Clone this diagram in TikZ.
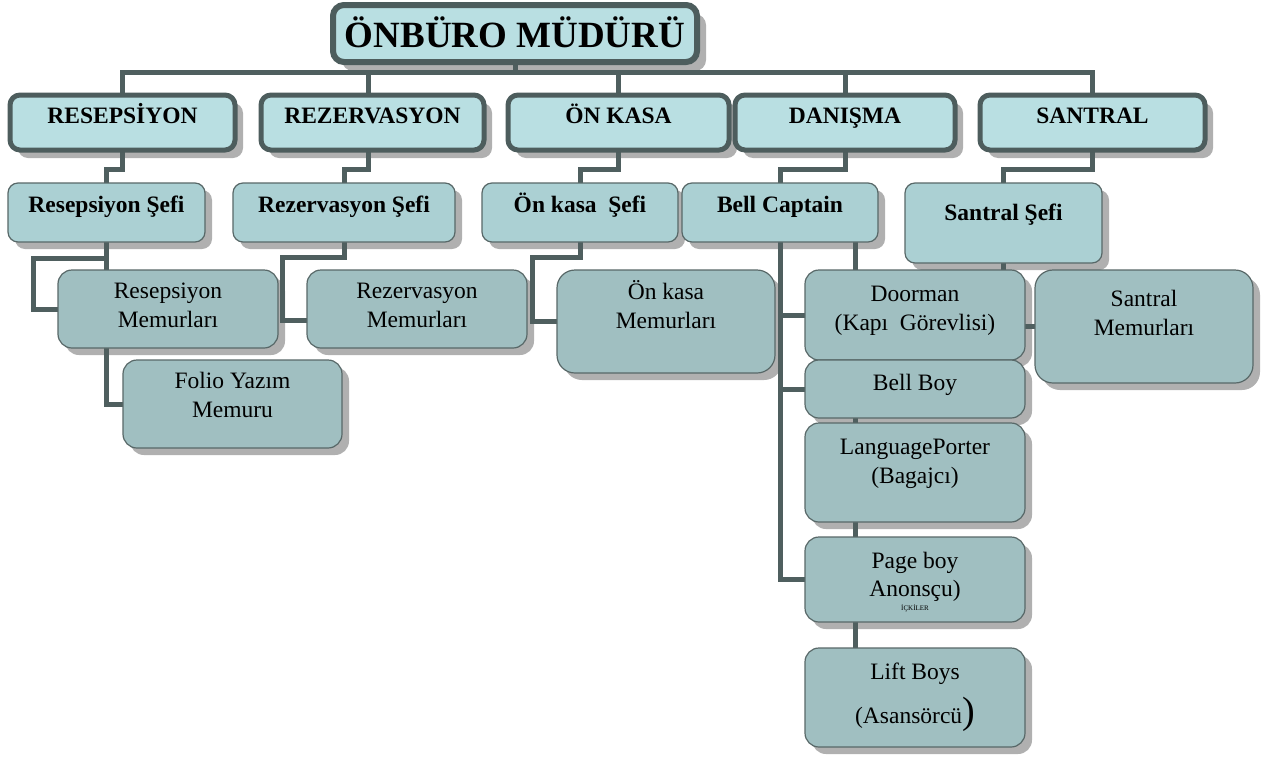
\documentclass[tikz,border=0pt]{standalone}
\usepackage{fontspec}
\setmainfont{Liberation Serif}
\pgfdeclarelayer{shadowlayer}
\pgfdeclarelayer{linelayer}
\pgfsetlayers{shadowlayer,linelayer,main}
\definecolor{lineC}{RGB}{79,95,95}
\definecolor{bordC}{RGB}{77,93,93}
\definecolor{thinC}{RGB}{88,104,104}
\definecolor{fillA}{RGB}{185,223,226}
\definecolor{fillB}{RGB}{171,208,211}
\definecolor{fillC}{RGB}{160,191,193}
\definecolor{shadC}{RGB}{176,176,176}
\begin{document}
\begin{tikzpicture}[x=1pt,y=-1pt,
  basebox/.style={rectangle, outer sep=0pt, inner sep=0pt, align=center, text height=16pt},
  headbox/.style={basebox, draw=bordC, line width=6pt, fill=fillA, rounded corners=11pt, font=\fontsize{37}{44}\selectfont\bfseries},
  deptbox/.style={basebox, draw=bordC, line width=5pt, fill=fillA, rounded corners=10pt, font=\fontsize{23.5}{28.4}\selectfont\bfseries, minimum height=55pt, text depth=15pt},
  chiefbox/.style={basebox, draw=thinC, line width=1.2pt, fill=fillB, rounded corners=10pt, font=\fontsize{23.5}{28.4}\selectfont\bfseries},
  staffbox/.style={basebox, draw=thinC, line width=1.2pt, fill=fillC, rounded corners=14pt, font=\fontsize{23.5}{28.4}\selectfont},
  conn/.style={draw=lineC, line width=5pt}
]
\useasboundingbox (0,0) rectangle (1264,758);

% head
\node[headbox, minimum width=364pt, minimum height=57pt, text height=30pt, text depth=3pt] (top) at (515,33.5) {ÖNBÜRO MÜDÜRÜ};

% departments
\node[deptbox, minimum width=225pt] (r1) at (122.5,122.5) {RESEPSİYON};
\node[deptbox, minimum width=223pt] (r2) at (372.5,122.5) {REZERVASYON};
\node[deptbox, minimum width=221pt] (r3) at (618.5,122.5) {ÖN KASA};
\node[deptbox, minimum width=220pt] (r4) at (845,122.5) {DANIŞMA};
\node[deptbox, minimum width=225pt] (r5) at (1092.5,122.5) {SANTRAL};

% chiefs
\node[chiefbox, minimum width=197pt, minimum height=59pt, text depth=17pt] (s1) at (106.5,212.5) {Resepsiyon Şefi};
\node[chiefbox, minimum width=222pt, minimum height=59pt, text depth=17pt] (s2) at (344,212.5) {Rezervasyon Şefi};
\node[chiefbox, minimum width=196pt, minimum height=59pt, text depth=17pt] (s3) at (580,212.5) {Ön kasa\ \ Şefi};
\node[chiefbox, minimum width=196pt, minimum height=59pt, text depth=17pt] (s4) at (780,212.5) {Bell Captain};
\node[chiefbox, minimum width=197pt, minimum height=80pt, text depth=22pt] (s5) at (1003.5,223) {Santral Şefi};

% staff
\node[staffbox, minimum width=220pt, minimum height=78pt, text height=40pt, text depth=4pt] (m1) at (168,309) {Resepsiyon\\Memurları};
\node[staffbox, minimum width=220pt, minimum height=78pt, text height=40pt, text depth=4pt] (m2) at (417,309) {Rezervasyon\\Memurları};
\node[staffbox, minimum width=218pt, minimum height=103pt, text height=17pt, text depth=4pt, rounded corners=18pt] (m3) at (666,321.5) {Ön kasa\\Memurları};
\node[staffbox, minimum width=219pt, minimum height=88pt, text height=30pt, text depth=4pt] (f1) at (232.5,404) {Folio Yazım\\Memuru};
\node[staffbox, minimum width=218pt, minimum height=113pt, text height=21pt, text depth=4pt, rounded corners=18pt] (sm) at (1144,326.5) {Santral\\Memurları};
\node[staffbox, minimum width=220pt, minimum height=90pt, text height=34pt, text depth=4pt] (d1) at (915,315) {Doorman\\(Kapı\ \ Görevlisi)};
\node[staffbox, minimum width=220pt, minimum height=58pt, text depth=14pt] (d2) at (915,389) {Bell Boy};
\node[staffbox, minimum width=220pt, minimum height=99pt, text height=25pt, text depth=4pt] (d3) at (915,472.5) {LanguagePorter\\(Bagajcı)};
\node[staffbox, minimum width=220pt, minimum height=85pt, text height=65pt, text depth=4pt] (d4) at (915,579.5) {Page boy\\Anonsçu)\\[-15pt]{\fontsize{7}{8}\selectfont İÇKİLER}};
\node[staffbox, minimum width=220pt, minimum height=99pt, text height=55pt, text depth=4pt] (d5) at (915,697.5) {Lift Boys\\[11pt](Asansörcü{\fontsize{38}{40}\selectfont)}};

% shadows
\begin{pgfonlayer}{shadowlayer}
\fill[white] (0,0) rectangle (1264,758);
\foreach \n/\d/\r in {top/9/11, r1/8/10, r2/8/10, r3/8/10, r4/8/10, r5/8/10,
  s1/7/10, s2/7/10, s3/7/10, s4/7/10, s5/7/10,
  m1/7/14, m2/7/14, m3/7/18, f1/7/14, sm/7/18, d1/7/14, d2/7/14, d3/7/14, d4/7/14, d5/7/14}
  \fill[shadC, rounded corners=\r pt] ([shift={(\d pt,-\d pt)}]\n.south west) rectangle ([shift={(\d pt,-\d pt)}]\n.north east);
\end{pgfonlayer}

% connectors
\begin{pgfonlayer}{linelayer}
\coordinate (bus) at (515,72);
\draw[conn] (top.south) -- (bus);
\draw[conn] (r1.north) |- (bus);
\draw[conn] ([xshift=-4.5pt]r2.north) |- (bus);
\draw[conn] (r3.north) |- (bus);
\draw[conn] (r4.north) |- (bus);
\draw[conn] (r5.north) |- (bus);

\draw[conn] (r1.south) |- ([yshift=14pt]s1.north) -- (s1.north);
\draw[conn] ([xshift=-4.5pt]r2.south) |- ([yshift=14pt]s2.north) -- (s2.north);
\draw[conn] (r3.south) |- ([yshift=14pt]s3.north) -- (s3.north);
\draw[conn] (r4.south) |- ([yshift=14pt]s4.north) -- (s4.north);
\draw[conn] (r5.south) |- ([yshift=14pt]s5.north) -- (s5.north);

\draw[conn] (s1.south) -- (s1.south |- m1.north);
\draw[conn] ([yshift=-16pt]s1.south) -| ([xshift=-25pt]m1.west) -- (m1.west);
\draw[conn] (s1.south |- m1.south) |- (f1.west);
\draw[conn] (s2.south) -- ([yshift=-15pt]s2.south) -| ([xshift=-25pt,yshift=-11pt]m2.west) -- ([yshift=-11pt]m2.west);
\draw[conn] (s3.south) -- ([yshift=-15pt]s3.south) -| ([xshift=-25pt]m3.west) -- (m3.west);

\draw[conn] (s4.south) |- (d4.west);
\draw[conn] (s4.south |- d1.west) -- (d1.west);
\draw[conn] (s4.south |- d2.west) -- (d2.west);
\draw[conn] ([xshift=75pt]s4.south) -- ([xshift=75pt]s4.south |- d5.north);

\draw[conn] (s5.south) |- (sm.west);
\end{pgfonlayer}
\end{tikzpicture}
\end{document}
